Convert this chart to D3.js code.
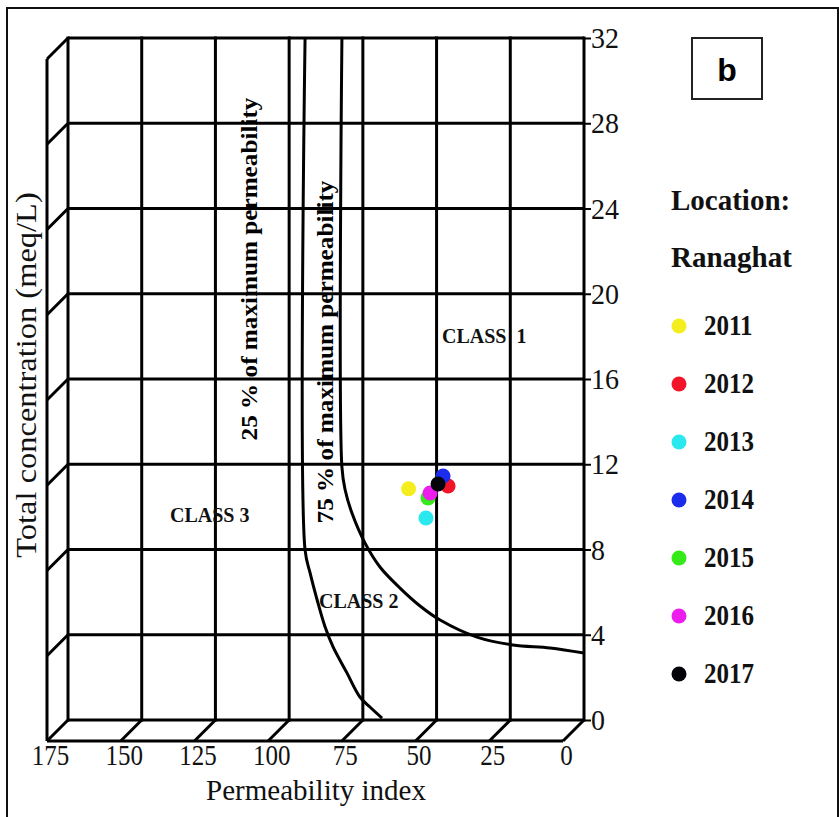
<!DOCTYPE html>
<html>
<head>
<meta charset="utf-8">
<script src="https://cdn.jsdelivr.net/npm/d3@7"></script>
<style>
  body { margin: 0; background: #fff; }
  svg { display: block; }
  .serif { font-family: "Liberation Serif", "Times New Roman", serif; }
</style>
</head>
<body>
<div id="chart"></div>
<script>
// Doneen permeability diagram, location Ranaghat
const xTicks = [175, 150, 125, 100, 75, 50, 25, 0];
const yTicks = [0, 4, 8, 12, 16, 20, 24, 28, 32];

const years = ['2011', '2012', '2013', '2014', '2015', '2016', '2017'];
const yearColors = ['#f5ee1f', '#f2152a', '#29e8ee', '#1c2cec', '#35ea18', '#ec1ded', '#05030a'];
const permIndex = [59.5, 46.1, 53.6, 47.8, 52.9, 52.2, 49.5];
const totalConc = [10.85, 10.98, 9.48, 11.45, 10.42, 10.65, 11.07];

// boundary curves (PI, meq/L)
const curveLeftPI = [94.6, 94.6, 92.9, 90.5, 87.8, 85.1, 80.4, 76.0, 72.6, 68.5];
const curveLeftTC = [32, 7.98, 6.9, 5.63, 4.36, 3.43, 2.21, 1.08, 0.61, 0.09];
const curveRightPI = [82.1, 82.1, 81.0, 78.7, 74.3, 69.2, 62.4, 55.6, 48.8, 36.3, 24.1, 11.5, 0];
const curveRightTC = [32, 11.87, 10.79, 9.71, 8.31, 7.18, 6.19, 5.35, 4.69, 3.89, 3.52, 3.38, 3.14];

const width = 839;
const height = 817;
const depth = { dx: -21, dy: 21 }; // offset of the front edges
const stretch = 1.15; // text in the original is a bit taller than wide

const svg = d3.select('#chart').append('svg')
  .attr('width', width)
  .attr('height', height);

const x = d3.scaleLinear().domain([175, 0]).range([68, 584]);
const y = d3.scaleLinear().domain([0, 32]).range([720, 38]);

// outer frame
svg.append('rect')
  .attr('x', 7).attr('y', 8)
  .attr('width', 831).attr('height', 830)
  .attr('fill', 'none')
  .attr('stroke', '#111')
  .attr('stroke-width', 2);

const grid = svg.append('g')
  .attr('stroke', '#000')
  .attr('stroke-width', 3)
  .attr('fill', 'none');

// back plane
grid.selectAll('.vline')
  .data(xTicks)
  .enter()
  .append('line')
  .attr('x1', d => x(d)).attr('x2', d => x(d))
  .attr('y1', y(32) - 1.5).attr('y2', y(0) + 1.5);

grid.selectAll('.hline')
  .data(yTicks)
  .enter()
  .append('line')
  .attr('x1', x(175)).attr('x2', x(0))
  .attr('y1', d => y(d)).attr('y2', d => y(d));

// left wall
grid.append('line')
  .attr('x1', x(175) + depth.dx).attr('x2', x(175) + depth.dx)
  .attr('y1', y(32) + depth.dy).attr('y2', y(0) + depth.dy);

grid.selectAll('.wall')
  .data(yTicks.filter(d => d > 0))
  .enter()
  .append('line')
  .attr('x1', x(175)).attr('y1', d => y(d))
  .attr('x2', x(175) + depth.dx).attr('y2', d => y(d) + depth.dy);

// floor
grid.append('line')
  .attr('x1', x(175) + depth.dx).attr('x2', x(0) + depth.dx)
  .attr('y1', y(0) + depth.dy).attr('y2', y(0) + depth.dy);

grid.selectAll('.floor')
  .data(xTicks)
  .enter()
  .append('line')
  .attr('x1', d => x(d)).attr('y1', y(0))
  .attr('x2', d => x(d) + depth.dx).attr('y2', y(0) + depth.dy);

// boundary curves
const line = d3.line()
  .x(d => x(d[0]))
  .y(d => y(d[1]))
  .curve(d3.curveCatmullRom.alpha(0.5));

[[curveLeftPI, curveLeftTC], [curveRightPI, curveRightTC]].forEach(function (c) {
  svg.append('path')
    .datum(d3.zip(c[0], c[1]))
    .attr('d', line)
    .attr('fill', 'none')
    .attr('stroke', '#000')
    .attr('stroke-width', 3);
});

// y axis on the right
const yAxis = svg.append('g')
  .attr('transform', `translate(${x(0)},0)`)
  .call(d3.axisRight(y).tickValues(yTicks).tickSize(7).tickSizeOuter(0).tickPadding(0));
yAxis.select('.domain').remove();
yAxis.selectAll('line').attr('stroke', '#000').attr('stroke-width', 2);
yAxis.selectAll('text')
  .attr('font-size', 28)
  .attr('font-family', '"Liberation Serif", serif')
  .attr('fill', '#111')
  .attr('transform', 'scale(1,1.07)');

// x axis along the front edge
const xAxis = svg.append('g')
  .attr('transform', `translate(-18,${y(0) + depth.dy})`)
  .call(d3.axisBottom(x).tickValues(xTicks).tickSize(0).tickPadding(3));
xAxis.select('.domain').remove();
xAxis.selectAll('text')
  .attr('font-size', 25)
  .attr('font-family', '"Liberation Serif", serif')
  .attr('fill', '#111')
  .attr('transform', `scale(1,${stretch})`);

// axis titles
svg.append('text')
  .attr('class', 'serif')
  .attr('x', 316).attr('y', 800)
  .attr('text-anchor', 'middle')
  .attr('font-size', 29)
  .attr('fill', '#111')
  .text('Permeability index');

svg.append('text')
  .attr('class', 'serif')
  .attr('transform', 'translate(36,375) rotate(-90) scale(1.12,1)')
  .attr('text-anchor', 'middle')
  .attr('font-size', 29)
  .attr('fill', '#111')
  .text('Total concentration (meq/L)');

// curve labels
svg.append('text')
  .attr('class', 'serif')
  .attr('transform', 'translate(257,269) rotate(-90) scale(1.12,1)')
  .attr('text-anchor', 'middle')
  .attr('font-size', 22.5)
  .attr('font-weight', 'bold')
  .text('25 % of maximum permeability');

svg.append('text')
  .attr('class', 'serif')
  .attr('transform', 'translate(333,352) rotate(-90) scale(1.12,1)')
  .attr('text-anchor', 'middle')
  .attr('font-size', 22.5)
  .attr('font-weight', 'bold')
  .text('75 % of maximum permeability');

// class labels
const classes = svg.append('g')
  .attr('class', 'serif')
  .attr('font-size', 20)
  .attr('font-weight', 'bold')
  .attr('fill', '#111');
classes.append('text').attr('x', 442).attr('y', 343).text('CLASS\u00a0\u00a01');
classes.append('text').attr('x', 170).attr('y', 522).text('CLASS 3');
classes.append('text').attr('x', 319).attr('y', 608).text('CLASS 2');

// samples
svg.selectAll('.pt')
  .data(years)
  .enter()
  .append('circle')
  .attr('cx', (d, i) => x(permIndex[i]))
  .attr('cy', (d, i) => y(totalConc[i]))
  .attr('r', 7.5)
  .attr('fill', (d, i) => yearColors[i]);

// panel tag
svg.append('rect')
  .attr('x', 692).attr('y', 38)
  .attr('width', 70).attr('height', 61)
  .attr('fill', 'none')
  .attr('stroke', '#222')
  .attr('stroke-width', 2);
svg.append('text')
  .attr('x', 727).attr('y', 81)
  .attr('text-anchor', 'middle')
  .attr('font-family', '"Liberation Sans", Arial, sans-serif')
  .attr('font-size', 32)
  .attr('font-weight', 'bold')
  .text('b');

// legend
const legend = svg.append('g')
  .attr('class', 'serif')
  .attr('font-weight', 'bold')
  .attr('fill', '#111');
legend.append('text').attr('x', 671).attr('y', 210).attr('font-size', 29).text('Location:');
legend.append('text').attr('x', 671).attr('y', 267).attr('font-size', 29).text('Ranaghat');

const ly = d3.scalePoint().domain(years).range([326, 674]);
const items = legend.selectAll('.item')
  .data(years)
  .enter()
  .append('g')
  .attr('transform', d => `translate(0,${ly(d)})`);
items.append('circle')
  .attr('cx', 679)
  .attr('r', 7.5)
  .attr('fill', (d, i) => yearColors[i]);
items.append('text')
  .attr('transform', `translate(704,9) scale(1,${stretch})`)
  .attr('font-size', 25)
  .text(d => d);
</script>
</body>
</html>
